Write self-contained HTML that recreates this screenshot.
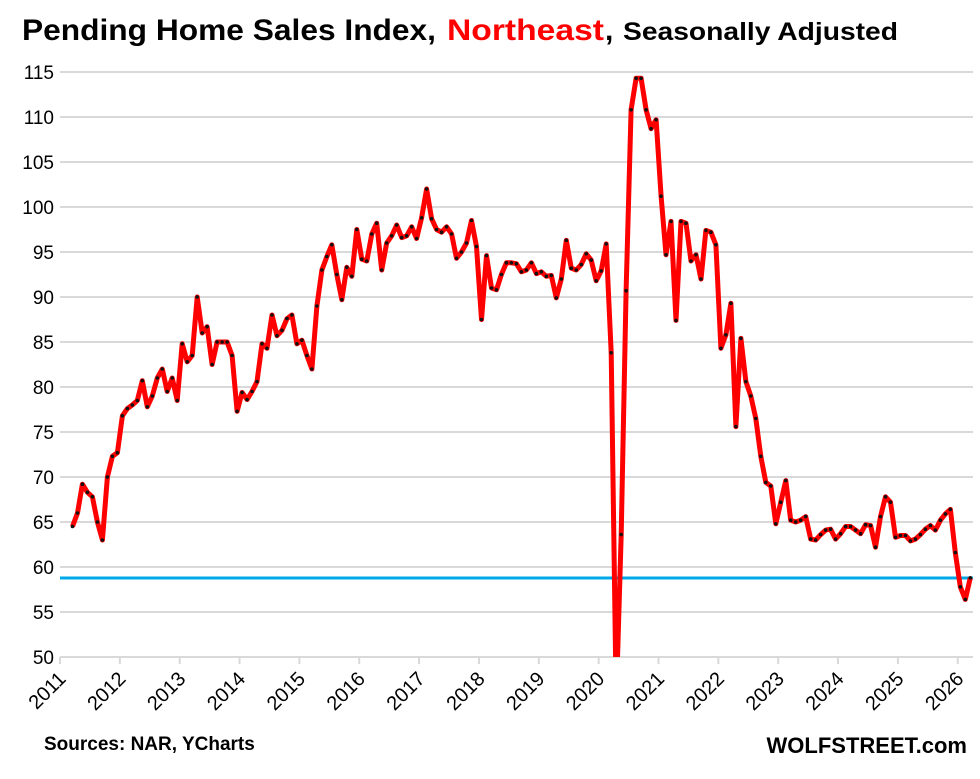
<!DOCTYPE html>
<html><head><meta charset="utf-8"><style>
body{margin:0;background:#fff;width:980px;height:774px;overflow:hidden;font-family:"Liberation Sans",Calibri,sans-serif}
</style></head><body>
<svg id="s" width="980" height="774" xmlns="http://www.w3.org/2000/svg" font-family="Liberation Sans, sans-serif">
<defs><clipPath id="c"><rect x="55" y="40" width="930" height="617"/></clipPath></defs>
<text x="22" y="40" font-size="30" font-weight="bold" fill="#000" textLength="414" lengthAdjust="spacingAndGlyphs">Pending Home Sales Index,</text>
<text x="447" y="40" font-size="30" font-weight="bold" fill="#ff0000" textLength="157" lengthAdjust="spacingAndGlyphs">Northeast</text>
<text x="605" y="40" font-size="30" font-weight="bold" fill="#000">,</text>
<text x="623" y="40" font-size="25" font-weight="bold" fill="#000" textLength="275" lengthAdjust="spacingAndGlyphs">Seasonally Adjusted</text>
<g id="grid"></g>
<g id="xl"></g>
<line x1="60" x2="973" y1="578" y2="578" stroke="#00a8e8" stroke-width="3"/>
<g clip-path="url(#c)"><polyline id="ln" fill="none" stroke="#ff0000" stroke-width="5" stroke-linejoin="round"/><g id="dots"></g></g>
<text x="44" y="750" font-size="19" font-weight="bold">Sources: NAR, YCharts</text>
<text x="967" y="753" font-size="22" font-weight="bold" text-anchor="end">WOLFSTREET.com</text>
</svg>
<script>
var d=[64.5,66,69.2,68.3,67.8,65,63,70,72.3,72.7,
76.8,77.6,78,78.5,80.7,77.8,79,81,82,79.5,81,78.5,
84.8,82.8,83.5,90,86,86.7,82.5,85,85,85,83.5,77.3,
79.4,78.6,79.5,80.6,84.8,84.3,88,85.7,86.3,87.6,88,84.8,
85.2,83.5,82,89,93,94.5,95.8,92.5,89.7,93.3,92.3,97.5,
94.2,94,97,98.2,93,96,96.8,98,96.6,96.8,97.8,96.5,
98.8,102,98.7,97.5,97.2,97.8,97,94.3,95,96,98.5,95.6,
87.5,94.6,91,90.8,92.5,93.8,93.8,93.7,92.8,93,93.8,92.6,
92.8,92.3,92.4,89.9,92,96.3,93.2,93,93.6,94.8,94.1,91.8,
92.9,95.9,83.8,45,63.6,90.7,110.8,114.3,114.3,110.8,108.7,109.7,
101.2,94.7,98.4,87.4,98.4,98.2,94,94.7,92,97.4,97.2,95.8,
84.3,85.8,89.3,75.6,85.4,80.6,79,76.5,72.3,69.4,69,64.8,
67.2,69.6,65.2,65,65.2,65.6,63.1,63,63.6,64.1,64.2,63.1,
63.7,64.5,64.5,64.1,63.7,64.7,64.6,62.2,65.6,67.8,67.2,63.3,
63.5,63.5,62.9,63.1,63.6,64.2,64.6,64.1,65.2,65.9,66.4,61.6,
57.8,56.4,58.8];
var NS="http://www.w3.org/2000/svg";
function el(t,a,p,txt){var e=document.createElementNS(NS,t);for(var k in a)e.setAttribute(k,a[k]);if(txt)e.textContent=txt;document.getElementById(p).appendChild(e);return e;}
var Y=function(v){return 657-(v-50)*9};
for(var v=50;v<=115;v+=5){var y=Y(v);el('line',{x1:60,x2:973,y1:y,y2:y,stroke:'#d9d9d9','stroke-width':2},'grid');
el('text',{x:54,y:y+7,'font-size':19,'text-anchor':'end'},'grid',String(v));}
for(var yr=2011;yr<=2026;yr++){var x=60+(yr-2011)*59.85;
el('line',{x1:x,x2:x,y1:657,y2:664,stroke:'#d9d9d9','stroke-width':2},'xl');
el('text',{x:x+7,y:680,'font-size':20,'text-anchor':'end',transform:'rotate(-45 '+(x+7)+' 680)'},'xl',String(yr));}
var pts=[];for(var i=0;i<d.length;i++){var x=60+(i+2.5)*4.988,y=Y(d[i]);pts.push(x.toFixed(1)+','+y.toFixed(1));
el('circle',{cx:x,cy:y,r:1.8,fill:'#111'},'dots');}
document.getElementById('ln').setAttribute('points',pts.join(' '));
</script>
</body></html>
